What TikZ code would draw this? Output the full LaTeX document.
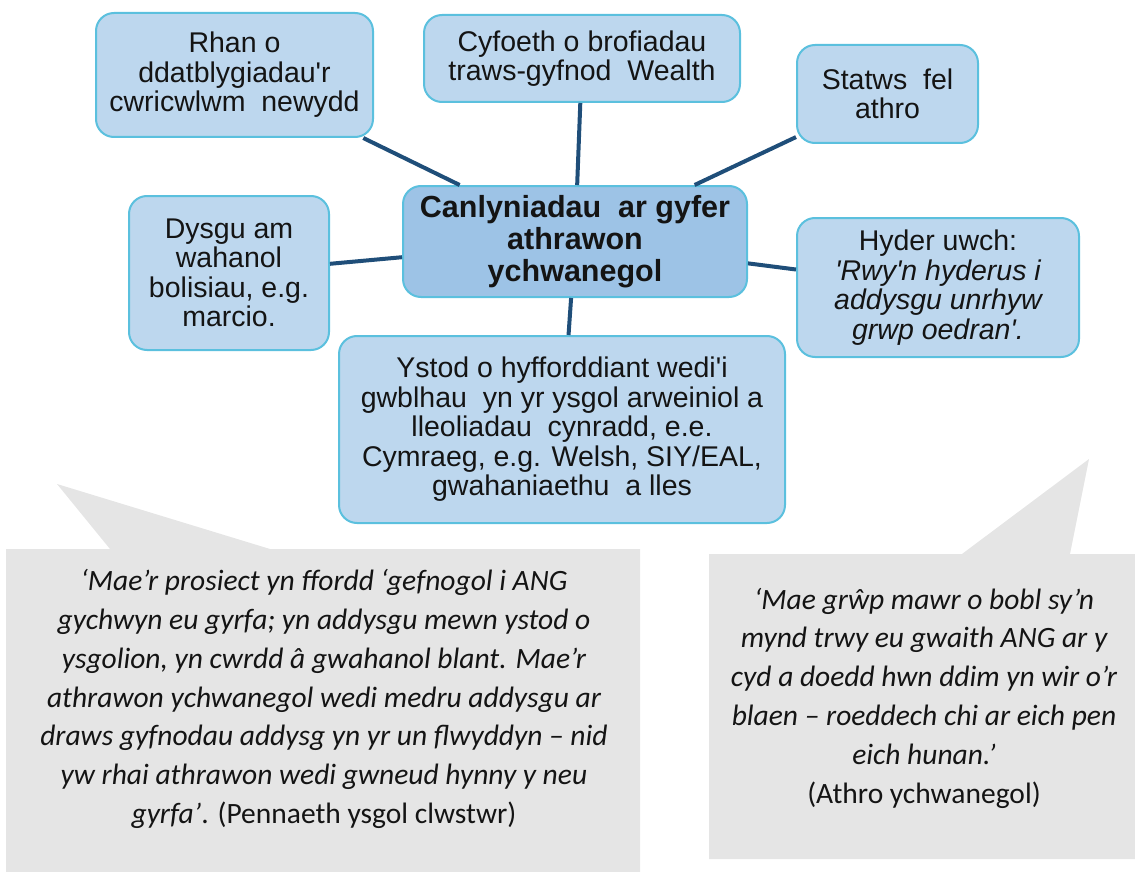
\documentclass[tikz,border=0pt]{standalone}
\usepackage{fontspec}
\setmainfont{Liberation Sans}[Ligatures=TeXOff]
\newfontfamily\calfont{Carlito}
\definecolor{boxfill}{RGB}{189,215,238}
\definecolor{cenfill}{RGB}{157,195,230}
\definecolor{boxline}{RGB}{91,192,222}
\definecolor{connblue}{RGB}{31,78,121}
\definecolor{callgray}{RGB}{229,229,229}
\definecolor{txt}{RGB}{20,20,20}
\begin{document}
\begin{tikzpicture}[x=1pt,y=-1pt,
  topic/.style={draw=boxline, line width=2pt, fill=boxfill, rounded corners=18pt,
    inner sep=0pt, align=center, text=txt, font=\fontsize{28.5}{29.5}\selectfont},
  centre/.style={topic, fill=cenfill, font=\bfseries\fontsize{30.5}{32}\selectfont},
  link/.style={draw=connblue, line width=4pt},
  callout/.style={fill=callgray, draw=none},
  quote/.style={align=center, text=txt, inner sep=0pt, font=\calfont\itshape\fontsize{29.5}{38.8}\selectfont}]
\useasboundingbox (0,0) rectangle (1135,872);

% callout shapes
\fill[callout] (6,549) -- (110,549) -- (57,484) -- (270,549) -- (640,549) -- (640,872) -- (6,872) -- cycle;
\fill[callout] (709,554) -- (962,554) -- (1089,459) -- (1070,554) -- (1135,554) -- (1135,859) -- (709,859) -- cycle;

% topic nodes
\node[topic, minimum width=277pt, minimum height=124pt] (rhan) at (234.5,75) {Rhan o\\ddatblygiadau'r\\cwricwlwm\ \ newydd};
\node[topic, minimum width=316pt, minimum height=87pt] (cyf) at (582,58.5) {Cyfoeth o brofiadau\\traws-gyfnod\ \ Wealth};
\node[topic, minimum width=181pt, minimum height=98pt] (stat) at (887.5,94) {Statws\ \ fel\\athro};
\node[centre, minimum width=344pt, minimum height=111pt] (cent) at (575,241.5) {Canlyniadau\ \ ar gyfer\\athrawon\\ychwanegol};
\node[topic, minimum width=200pt, minimum height=154pt] (dys) at (229,273) {Dysgu am\\wahanol\\bolisiau, e.g.\\marcio.};
\node[topic, minimum width=282pt, minimum height=139pt] (hyd) at (938,287.5) {Hyder uwch:\\\itshape 'Rwy'n hyderus i\\\itshape addysgu unrhyw\\\itshape grwp oedran'.};
\node[topic, minimum width=446pt, minimum height=187pt] (ystod) at (562,429.5) {Ystod o hyfforddiant wedi'i\\gwblhau\ \ yn yr ysgol arweiniol a\\lleoliadau\ \ cynradd, e.e.\\Cymraeg, e.g. Welsh, SIY/EAL,\\gwahaniaethu\ \ a lles};

% connectors
\draw[link] (rhan) -- (cent);
\draw[link] (cyf) -- (cent);
\draw[link] (stat) -- (cent);
\draw[link] (dys) -- (cent);
\draw[link] (hyd) -- (cent);
\draw[link] (ystod) -- (cent);

% quotes
\node[quote] (qleft) at (324,699) {‘Mae’r prosiect yn ffordd ‘gefnogol i ANG\\gychwyn eu gyrfa; yn addysgu mewn ystod o\\ysgolion, yn cwrdd â gwahanol blant. Mae’r\\athrawon ychwanegol wedi medru addysgu ar\\draws gyfnodau addysg yn yr un flwyddyn – nid\\yw rhai athrawon wedi gwneud hynny y neu\\gyrfa’{\upshape. (Pennaeth ysgol clwstwr)}};
\node[quote] (qright) at (924,698) {‘Mae grŵp mawr o bobl sy’n\\mynd trwy eu gwaith ANG ar y\\cyd a doedd hwn ddim yn wir o’r\\blaen – roeddech chi ar eich pen\\eich hunan.’\\\upshape (Athro ychwanegol)};
\end{tikzpicture}
\end{document}
